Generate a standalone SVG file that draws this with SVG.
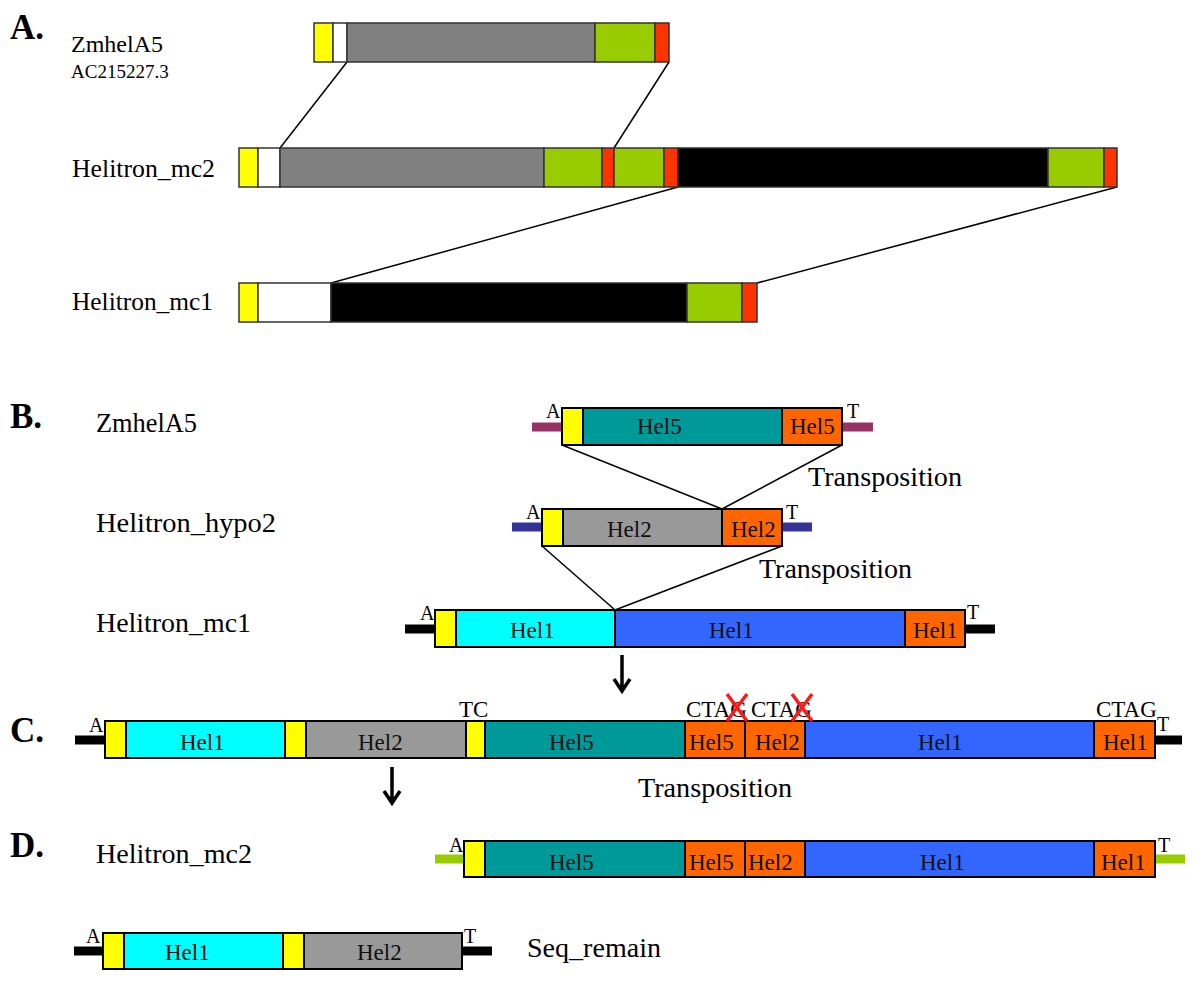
<svg xmlns="http://www.w3.org/2000/svg" width="1200" height="992" viewBox="0 0 1200 992">
<style>
text{font-family:"Liberation Serif","Times New Roman",serif;fill:#000}
.sec{font-weight:bold;font-size:35px}
.lbA{font-size:26px}
.lb{font-size:28px}
.hel{font-size:23px;fill:#111}
.sm{font-size:20px}
.cg{font-size:23px}
.a rect{stroke:#333;stroke-width:1.5}
.b rect{stroke:#000;stroke-width:2}
.ye{fill:#FFFF00}.wh{fill:#FFFFFF}.gr{fill:#808080}.gn{fill:#99CC00}.rd{fill:#FF3300}.bk{fill:#000}
.te{fill:#009999}.or{fill:#FF6600}.g2{fill:#999999}.cy{fill:#00FFFF}.bl{fill:#3366FF}
.con line{stroke:#000;stroke-width:1.5}
.fl{stroke-width:9}
.x line{stroke:#FF1A1A;stroke-width:3.5}
.arr{stroke:#000;stroke-width:3.5;fill:none}
</style>
<rect width="1200" height="992" fill="#fff"/>

<!-- Section labels -->
<g id="section-labels">
<text class="sec" x="10" y="39">A.</text>
<text class="sec" x="10" y="428">B.</text>
<text class="sec" x="10" y="742">C.</text>
<text class="sec" x="10" y="857">D.</text>
</g>

<!-- Connectors -->
<g id="connectors" class="con">
<line x1="347" y1="62" x2="280" y2="148"/>
<line x1="669" y1="62" x2="614" y2="148"/>
<line x1="678" y1="187" x2="331" y2="283"/>
<line x1="1117" y1="187" x2="757" y2="283"/>
<line x1="562" y1="445" x2="722" y2="509"/>
<line x1="842" y1="445" x2="722" y2="509"/>
<line x1="542" y1="546" x2="615" y2="610"/>
<line x1="782" y1="546" x2="615" y2="610"/>
<path class="arr" d="M622,655 V690 M614,679 L622,691 L630,679"/>
<path class="arr" d="M392,767 V802 M384,791 L392,803 L400,791"/>
</g>

<!-- Section A -->
<g id="A-ZmhelA5" class="a">
<text class="lbA" x="71" y="52" style="font-size:24px">ZmhelA5</text>
<text x="71" y="78" style="font-size:19px">AC215227.3</text>
<rect class="ye" x="314" y="23" width="19" height="39"/>
<rect class="wh" x="333" y="23" width="14" height="39"/>
<rect class="gr" x="347" y="23" width="248" height="39"/>
<rect class="gn" x="595" y="23" width="60" height="39"/>
<rect class="rd" x="655" y="23" width="14" height="39"/>
</g>
<g id="A-Helitron_mc2" class="a">
<text class="lbA" x="72" y="177" textLength="143" lengthAdjust="spacingAndGlyphs">Helitron_mc2</text>
<rect class="ye" x="239" y="148" width="19" height="39"/>
<rect class="wh" x="258" y="148" width="22" height="39"/>
<rect class="gr" x="280" y="148" width="264" height="39"/>
<rect class="gn" x="544" y="148" width="58" height="39"/>
<rect class="rd" x="602" y="148" width="12" height="39"/>
<rect class="gn" x="614" y="148" width="50" height="39"/>
<rect class="rd" x="664" y="148" width="14" height="39"/>
<rect class="bk" x="678" y="148" width="370" height="39"/>
<rect class="gn" x="1048" y="148" width="56" height="39"/>
<rect class="rd" x="1104" y="148" width="13" height="39"/>
</g>
<g id="A-Helitron_mc1" class="a">
<text class="lbA" x="72" y="310" textLength="141" lengthAdjust="spacingAndGlyphs">Helitron_mc1</text>
<rect class="ye" x="239" y="283" width="19" height="39"/>
<rect class="wh" x="258" y="283" width="73" height="39"/>
<rect class="bk" x="331" y="283" width="356" height="39"/>
<rect class="gn" x="687" y="283" width="55" height="39"/>
<rect class="rd" x="742" y="283" width="15" height="39"/>
</g>

<!-- Section B -->
<g id="B-ZmhelA5" class="b">
<text class="lb" x="96" y="432" textLength="101" lengthAdjust="spacingAndGlyphs">ZmhelA5</text>
<line class="fl" x1="532" y1="427" x2="562" y2="427" stroke="#993366"/>
<line class="fl" x1="842" y1="427" x2="873" y2="427" stroke="#993366"/>
<rect class="ye" x="562" y="408" width="21" height="37"/>
<rect class="te" x="583" y="408" width="199" height="37"/>
<rect class="or" x="782" y="408" width="60" height="37"/>
<text class="sm" x="546" y="418">A</text>
<text class="sm" x="847" y="418">T</text>
<text class="hel" x="637" y="434">Hel5</text>
<text class="hel" x="790" y="434">Hel5</text>
</g>
<text x="808" y="486" class="lb" textLength="154" lengthAdjust="spacingAndGlyphs">Transposition</text>
<g id="B-Helitron_hypo2" class="b">
<text class="lb" x="96" y="532" textLength="180" lengthAdjust="spacingAndGlyphs">Helitron_hypo2</text>
<line class="fl" x1="512" y1="527" x2="542" y2="527" stroke="#333399"/>
<line class="fl" x1="782" y1="527" x2="812" y2="527" stroke="#333399"/>
<rect class="ye" x="542" y="509" width="21" height="37"/>
<rect class="g2" x="563" y="509" width="159" height="37"/>
<rect class="or" x="722" y="509" width="60" height="37"/>
<text class="sm" x="526" y="519">A</text>
<text class="sm" x="786" y="519">T</text>
<text class="hel" x="607" y="537">Hel2</text>
<text class="hel" x="731" y="537">Hel2</text>
</g>
<text x="759" y="578" class="lb" textLength="153" lengthAdjust="spacingAndGlyphs">Transposition</text>
<g id="B-Helitron_mc1" class="b">
<text class="lb" x="96" y="632" textLength="155" lengthAdjust="spacingAndGlyphs">Helitron_mc1</text>
<line class="fl" x1="405" y1="629" x2="435" y2="629" stroke="#000"/>
<line class="fl" x1="965" y1="629" x2="995" y2="629" stroke="#000"/>
<rect class="ye" x="435" y="610" width="21" height="37"/>
<rect class="cy" x="456" y="610" width="159" height="37"/>
<rect class="bl" x="615" y="610" width="290" height="37"/>
<rect class="or" x="905" y="610" width="60" height="37"/>
<text class="sm" x="420" y="620">A</text>
<text class="sm" x="967" y="619">T</text>
<text class="hel" x="510" y="638">Hel1</text>
<text class="hel" x="709" y="638">Hel1</text>
<text class="hel" x="913" y="638">Hel1</text>
</g>

<!-- Section C -->
<g id="C-merged" class="b">
<line class="fl" x1="75" y1="740" x2="105" y2="740" stroke="#000"/>
<line class="fl" x1="1155" y1="740" x2="1182" y2="740" stroke="#000"/>
<rect class="ye" x="105" y="721" width="21" height="37"/>
<rect class="cy" x="126" y="721" width="159" height="37"/>
<rect class="ye" x="285" y="721" width="21" height="37"/>
<rect class="g2" x="306" y="721" width="160" height="37"/>
<rect class="ye" x="466" y="721" width="19" height="37"/>
<rect class="te" x="485" y="721" width="200" height="37"/>
<rect class="or" x="685" y="721" width="60" height="37"/>
<rect class="or" x="745" y="721" width="60" height="37"/>
<rect class="bl" x="805" y="721" width="289" height="37"/>
<rect class="or" x="1094" y="721" width="61" height="37"/>
<text class="sm" x="89" y="732">A</text>
<text class="cg" x="459" y="717">TC</text>
<text class="cg" x="686" y="717">CTAG</text>
<text class="cg" x="751" y="717">CTAG</text>
<text class="cg" x="1096" y="717">CTAG</text>
<text class="sm" x="1157" y="731">T</text>
<text class="hel" x="180" y="750">Hel1</text>
<text class="hel" x="358" y="750">Hel2</text>
<text class="hel" x="549" y="750">Hel5</text>
<text class="hel" x="689" y="750">Hel5</text>
<text class="hel" x="755" y="750">Hel2</text>
<text class="hel" x="918" y="750">Hel1</text>
<text class="hel" x="1103" y="750">Hel1</text>
<g class="x">
<line x1="727" y1="694" x2="747" y2="721"/>
<line x1="747" y1="694" x2="727" y2="721"/>
<line x1="792" y1="694" x2="812" y2="721"/>
<line x1="812" y1="694" x2="792" y2="721"/>
</g>
</g>
<text x="638" y="797" class="lb" textLength="154" lengthAdjust="spacingAndGlyphs">Transposition</text>

<!-- Section D -->
<g id="D-Helitron_mc2" class="b">
<text class="lb" x="96" y="863" textLength="156" lengthAdjust="spacingAndGlyphs">Helitron_mc2</text>
<line class="fl" x1="435" y1="859" x2="464" y2="859" stroke="#99CC00"/>
<line class="fl" x1="1155" y1="859" x2="1185" y2="859" stroke="#99CC00"/>
<rect class="ye" x="464" y="841" width="21" height="36"/>
<rect class="te" x="485" y="841" width="200" height="36"/>
<rect class="or" x="685" y="841" width="60" height="36"/>
<rect class="or" x="745" y="841" width="60" height="36"/>
<rect class="bl" x="805" y="841" width="289" height="36"/>
<rect class="or" x="1094" y="841" width="61" height="36"/>
<text class="sm" x="449" y="852">A</text>
<text class="sm" x="1158" y="852">T</text>
<text class="hel" x="549" y="870">Hel5</text>
<text class="hel" x="689" y="870">Hel5</text>
<text class="hel" x="748" y="870">Hel2</text>
<text class="hel" x="920" y="870">Hel1</text>
<text class="hel" x="1101" y="870">Hel1</text>
</g>
<g id="D-Seq_remain" class="b">
<line class="fl" x1="74" y1="951" x2="103" y2="951" stroke="#000"/>
<line class="fl" x1="462" y1="951" x2="492" y2="951" stroke="#000"/>
<rect class="ye" x="103" y="933" width="21" height="36"/>
<rect class="cy" x="124" y="933" width="159" height="36"/>
<rect class="ye" x="283" y="933" width="21" height="36"/>
<rect class="g2" x="304" y="933" width="158" height="36"/>
<text class="sm" x="86" y="943">A</text>
<text class="sm" x="464" y="943">T</text>
<text class="hel" x="165" y="960">Hel1</text>
<text class="hel" x="357" y="960">Hel2</text>
<text class="lb" x="527" y="957" textLength="134" lengthAdjust="spacingAndGlyphs">Seq_remain</text>
</g>
</svg>
